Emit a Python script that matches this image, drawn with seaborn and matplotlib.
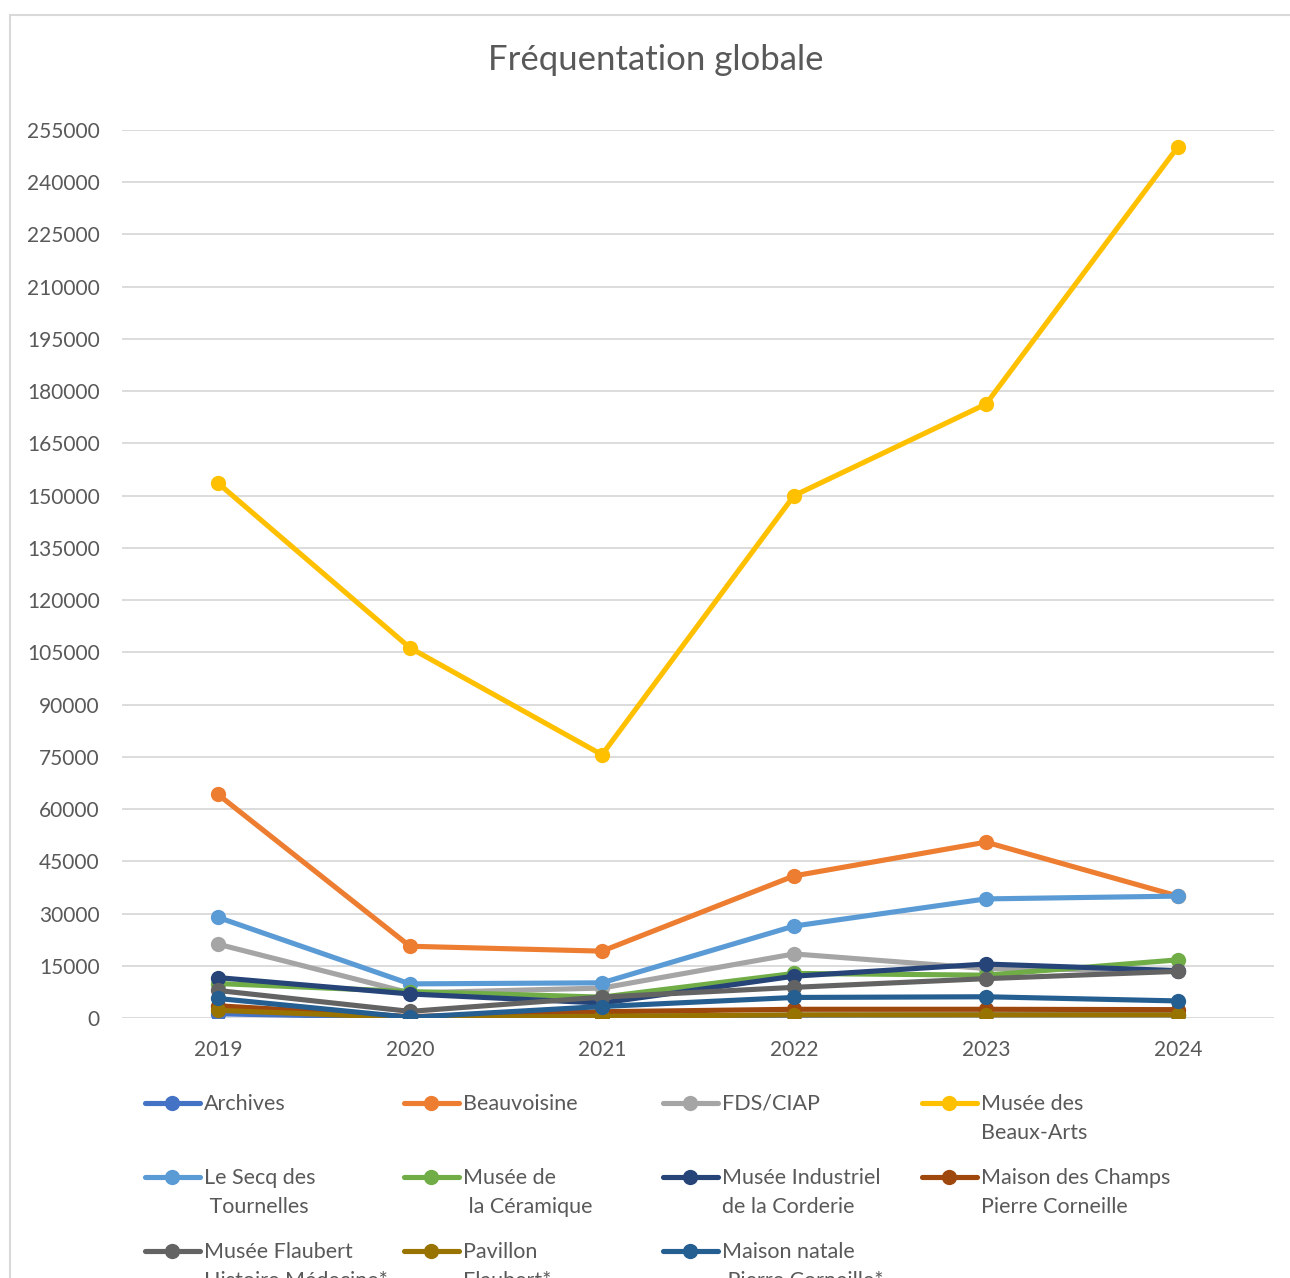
import matplotlib
matplotlib.use("Agg")
import matplotlib.pyplot as plt
from matplotlib.lines import Line2D
from matplotlib.patches import Rectangle
import seaborn as sns
import pandas as pd
import numpy as np

# Données
annees = ['2019', '2020', '2021', '2022', '2023', '2024']
lieux = ['Archives', 'Beauvoisine', 'FDS/CIAP', 'Musée des\nBeaux-Arts',
         'Le Secq des\n Tournelles', 'Musée de\n la Céramique',
         'Musée Industriel\nde la Corderie', 'Maison des Champs\nPierre Corneille',
         'Musée Flaubert\nHistoire Médecine*', 'Pavillon\nFlaubert*',
         'Maison natale\n Pierre Corneille*']
archives = [1200, 200, 500, 800, 900, 900]
beauvoisine = [64200, 20600, 19200, 40800, 50500, 35000]
fds_ciap = [21200, 7200, 8600, 18400, 14200, 13600]
beaux_arts = [153600, 106300, 75600, 150000, 176300, 250200]
secq = [28900, 9800, 10100, 26400, 34200, 35000]
ceramique = [9900, 7600, 6000, 12800, 12300, 16700]
industriel = [11600, 6900, 4300, 12000, 15500, 13600]
champs = [3500, 400, 1800, 2500, 2500, 2400]
flaubert = [7900, 1900, 6000, 8800, 11300, 13400]
pavillon = [2200, 100, 500, 900, 900, 900]
natale = [5600, 200, 3300, 5900, 6100, 4900]
series = [archives, beauvoisine, fds_ciap, beaux_arts, secq, ceramique,
          industriel, champs, flaubert, pavillon, natale]
couleurs = ['#4472C4', '#ED7D31', '#A5A5A5', '#FFC000', '#5B9BD5', '#70AD47',
            '#264478', '#9E480E', '#636363', '#997300', '#255E91']

rows = []
for nom, vals in zip(lieux, series):
    for a, v in zip(annees, vals):
        rows.append({'annee': a, 'lieu': nom, 'visiteurs': v})
df = pd.DataFrame(rows)

sns.set_style("white")
plt.rcParams['font.family'] = ['Lato', 'DejaVu Sans']
gris = '#595959'

W, H = 1290, 1278
fig = plt.figure(figsize=(W / 100, H / 100), dpi=100)
ax = fig.add_axes([122 / W, 1 - 1018 / H, (1274 - 122) / W, (1018 - 130) / H])

sns.lineplot(data=df, x='annee', y='visiteurs', hue='lieu', hue_order=lieux,
             palette=dict(zip(lieux, couleurs)), sort=False, legend=False,
             marker='o', markersize=11, markeredgewidth=0, linewidth=3.7, ax=ax)

ax.set_xlim(-0.5, 5.5)
ax.set_ylim(0, 255000)
ax.set_yticks(np.arange(0, 255001, 15000))
ax.grid(axis='y', color='#D9D9D9', linewidth=1.3)
ax.set_axisbelow(True)
for s in ax.spines.values():
    s.set_visible(False)
ax.tick_params(axis='both', length=0, labelsize=15, labelcolor=gris)
ax.tick_params(axis='y', pad=16)
ax.tick_params(axis='x', pad=16)
ax.set_xlabel('')
ax.set_ylabel('')

fig.text(656 / W, 1 - 60 / H, 'Fréquentation globale', ha='center', va='center',
         fontsize=25, color=gris)

# cadre de la zone graphique
fig.add_artist(Rectangle((10 / W, -0.1), 1.2, 1 - 15 / H + 0.1,
                         transform=fig.transFigure, fill=False,
                         edgecolor='#D9D9D9', linewidth=1.5))

# légende façon Excel (4 colonnes)
col_x = [145, 404, 663, 922]
row_y = [1103, 1177, 1251]
for i, (nom, c) in enumerate(zip(lieux, couleurs)):
    x0 = col_x[i % 4]
    y0 = row_y[i // 4]
    fig.add_artist(Line2D([x0 / W, (x0 + 27) / W, (x0 + 55) / W],
                          [1 - y0 / H] * 3, transform=fig.transFigure,
                          color=c, linewidth=3.7, marker='o', markersize=11,
                          markeredgewidth=0, markevery=[1]))
    fig.text((x0 + 59) / W, 1 - (y0 - 9) / H, nom, ha='left', va='top',
             fontsize=15.5, color=gris, linespacing=1.55)

plt.savefig('out.png', dpi=100)
plt.close()
